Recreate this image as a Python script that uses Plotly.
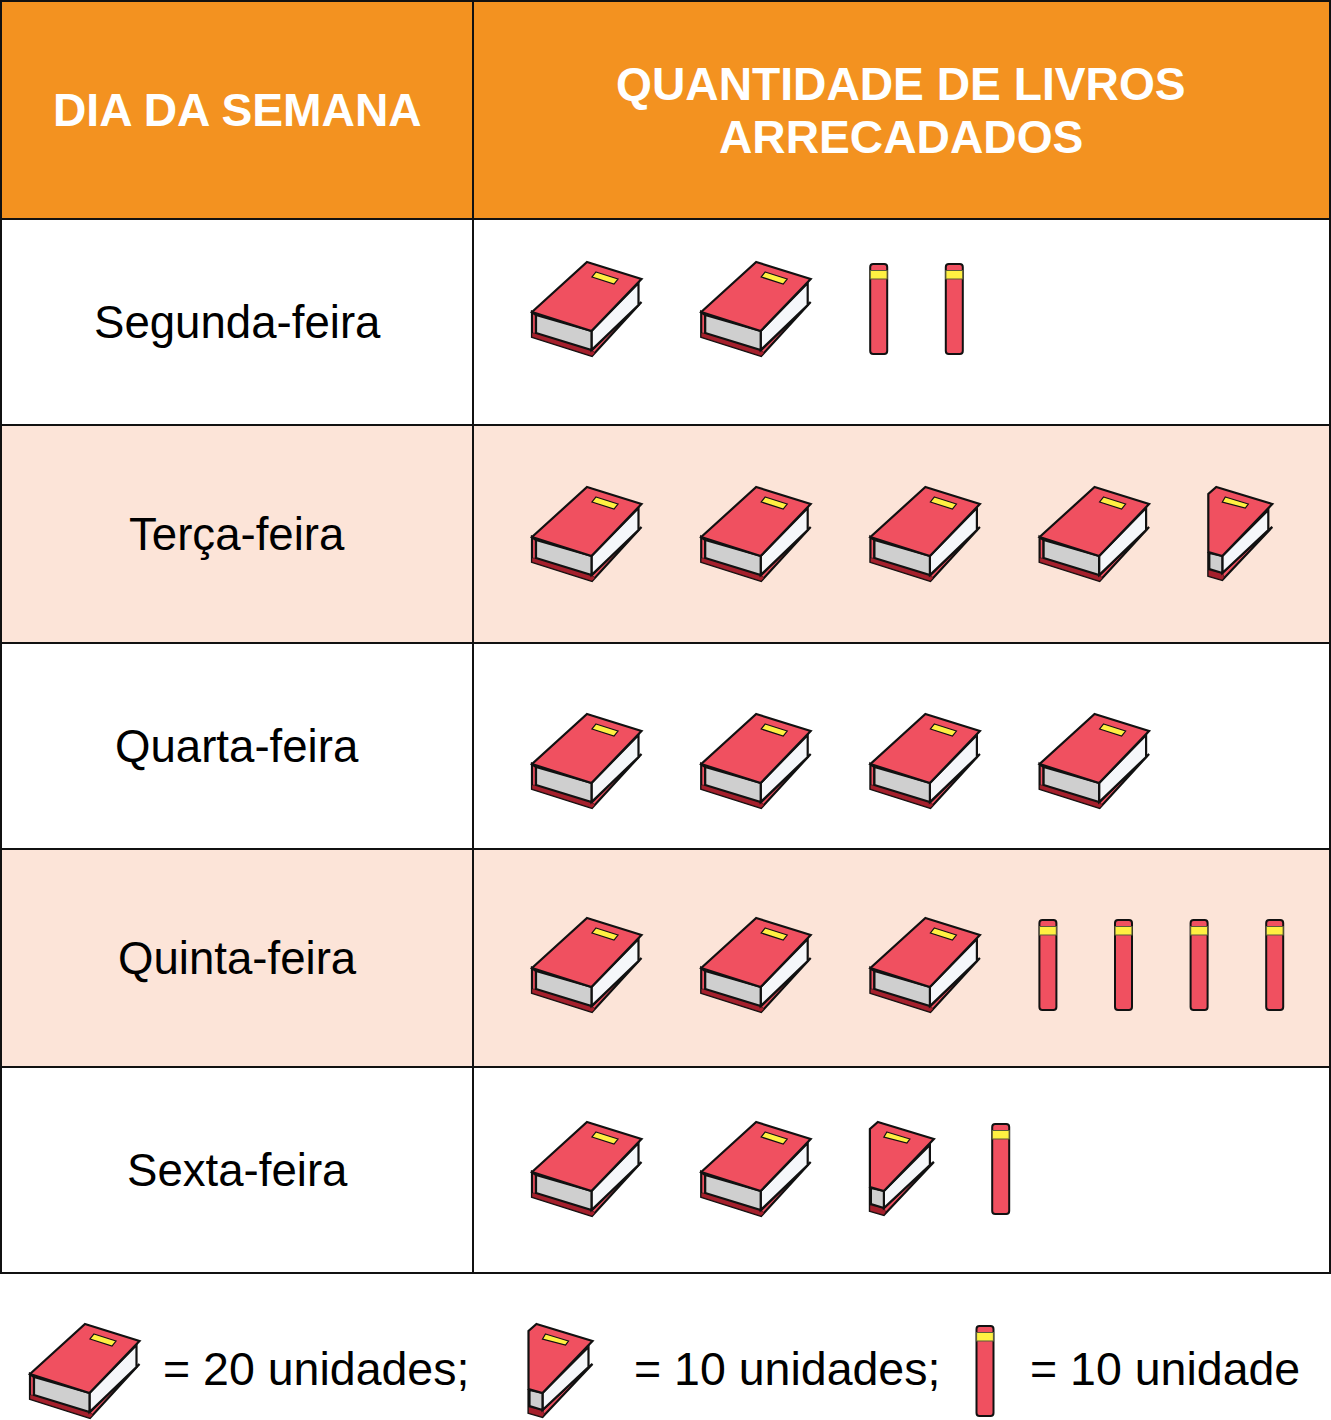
import plotly.graph_objects as go

# ---------- data ----------
days = ["Segunda-feira", "Terça-feira", "Quarta-feira", "Quinta-feira", "Sexta-feira"]
full_books = [2, 4, 4, 3, 2]
half_books = [0, 1, 0, 0, 1]
spines = [2, 0, 0, 4, 1]
header_day = "DIA DA SEMANA"
header_qty = ["QUANTIDADE DE LIVROS", "ARRECADADOS"]
legend_labels = ["= 20 unidades;", "= 10 unidades;", "= 10 unidade"]

# ---------- layout ----------
W, H = 1331, 1420
col_x = [1, 473, 1330]
row_y = [1, 219, 425, 643, 849, 1067, 1273]
book_top = [261, 486, 713, 917, 1121]
ICON_X0, FULL_STEP, HALF_STEP, SPINE_STEP = 531, 169.2, 122, 75.6
ORANGE, PINK, RED, DARK, YELLOW, GREY, PAGE, INK = (
    "#f39220", "#fce4d8", "#f05060", "#a5202c", "#fff042", "#cfcfcf", "#f5f7fa", "#111111")
FONT = "Liberation Sans"

shapes, notes = [], []

def poly(pts, ox, oy, fill, lw=2.2, line=INK):
    d = "M" + " L".join(f"{ox+a:.1f},{oy+b:.1f}" for a, b in pts) + " Z"
    shapes.append(dict(type="path", path=d, xref="x", yref="y", fillcolor=fill,
                       line=dict(color=line, width=lw), layer="above"))

def full(ox, oy):
    poly([(1, 51), (1, 76), (61, 95), (110.5, 41), (107, 44), (61, 89), (5, 72), (5, 54)], ox, oy, RED)
    poly([(1, 72), (1, 76), (61, 95), (64, 92), (61, 89), (5, 72)], ox, oy, DARK, 0.5)
    poly([(60.5, 70), (107.5, 22), (107.5, 44), (60.5, 89)], ox, oy, PAGE)
    poly([(5, 54), (60.5, 70), (60.5, 89), (5, 72)], ox, oy, GREY)
    poly([(56, 1), (110.5, 18), (60.5, 70), (1, 51)], ox, oy, RED)
    poly([(65, 11), (87, 18), (83, 23), (61, 16)], ox, oy, YELLOW, 1.2)

def half(ox, oy):
    poly([(1, 66), (1, 90), (15, 94), (65, 41), (61, 44), (15, 87), (2, 83)], ox, oy, RED)
    poly([(1, 84), (1, 90), (15, 94), (17, 91), (15, 87)], ox, oy, DARK, 0.5)
    poly([(15, 70), (61, 24), (61, 44), (15, 87)], ox, oy, PAGE)
    poly([(2, 67), (15, 70), (15, 87), (2, 83)], ox, oy, GREY)
    poly([(9, 1), (65, 18), (15, 70), (1, 66), (1, 8)], ox, oy, RED)
    poly([(18, 11), (41, 18), (38, 22), (15, 16)], ox, oy, YELLOW, 1.2)

def spine(ox, oy):
    r = 3
    x0, x1, y0, y1 = ox, ox + 17, oy, oy + 90
    d = (f"M{x0+r},{y0} L{x1-r},{y0} Q{x1},{y0} {x1},{y0+r} L{x1},{y1-r} Q{x1},{y1} {x1-r},{y1} "
         f"L{x0+r},{y1} Q{x0},{y1} {x0},{y1-r} L{x0},{y0+r} Q{x0},{y0} {x0+r},{y0} Z")
    shapes.append(dict(type="path", path=d, xref="x", yref="y", fillcolor=RED,
                       line=dict(color=INK, width=2), layer="above"))
    poly([(0, 6.5), (17, 6.5), (17, 15), (0, 15)], ox, oy, YELLOW, 1.2, "#5a5a3a")

def text(x, y, s, size, color="#000000", bold=False):
    notes.append(dict(x=x, y=y, xref="x", yref="y", text=f"<b>{s}</b>" if bold else s,
                      showarrow=False, xanchor="center", yanchor="middle", align="center",
                      font=dict(family=FONT, size=size, color=color)))

# table cells
for r in range(6):
    fill = ORANGE if r == 0 else (PINK if r in (2, 4) else "#ffffff")
    for c in range(2):
        shapes.append(dict(type="rect", xref="x", yref="y", x0=col_x[c], x1=col_x[c + 1],
                           y0=row_y[r], y1=row_y[r + 1], fillcolor=fill,
                           line=dict(color=INK, width=2), layer="below"))

# headers
text(237, 109.5, header_day, 46.2, "#ffffff", True)
text(901, 84, header_qty[0], 46.2, "#ffffff", True)
text(901, 137, header_qty[1], 46.2, "#ffffff", True)

# rows
for i, day in enumerate(days):
    text(237, (row_y[i + 1] + row_y[i + 2]) / 2, day, 45.6)
    cx = ICON_X0
    for _ in range(full_books[i]):
        full(cx, book_top[i])
        cx += FULL_STEP
    for _ in range(half_books[i]):
        half(cx - 0.5, book_top[i])
        cx += HALF_STEP
    for _ in range(spines[i]):
        spine(cx + 0.8, book_top[i] + 3)
        cx += SPINE_STEP

# legend
full(29, 1323)
half(527.5, 1323)
spine(976.5, 1326)
text(315.5, 1369, legend_labels[0], 46.5)
text(787, 1369, legend_labels[1], 46.5)
text(1164.5, 1369, legend_labels[2], 46.5)

fig = go.Figure()
fig.add_trace(go.Scatter(x=[0, W], y=[0, H], mode="markers", marker=dict(opacity=0),
                         hoverinfo="skip", showlegend=False))
fig.update_layout(
    width=W, height=H, margin=dict(l=0, r=0, t=0, b=0),
    paper_bgcolor="#ffffff", plot_bgcolor="#ffffff",
    shapes=shapes, annotations=notes, showlegend=False,
    xaxis=dict(range=[0, W], visible=False, fixedrange=True),
    yaxis=dict(range=[H, 0], visible=False, fixedrange=True),
)
fig.write_html("out.html", config=dict(displayModeBar=False),
               post_script="document.body.style.margin='0';document.documentElement.style.overflow='hidden';")
